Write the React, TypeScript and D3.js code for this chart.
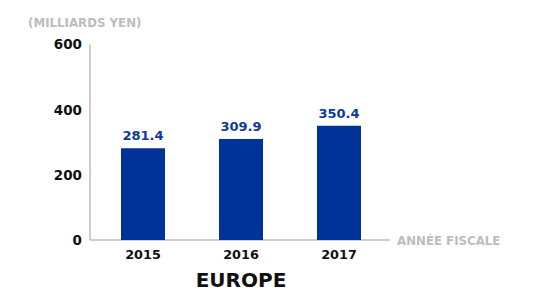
import React from 'react';
import * as d3 from 'd3';

const years = ['2015', '2016', '2017'];
const sales = [281.4, 309.9, 350.4];
const yTicks = [0, 200, 400, 600];

const font = '"DejaVu Sans", sans-serif';

export default function App() {
    const width = 538;
    const height = 293;

    const x = d3.scaleBand<string>()
        .domain(years)
        .range([94, 388])
        .paddingInner(0.551)
        .paddingOuter(0.2755);

    const y = d3.scaleLinear()
        .domain([0, 600])
        .range([240, 44.4]);

    return (
        <svg width={width} height={height}
            style={{ position: 'absolute', left: 0, top: 0, fontFamily: font }}>
            <text x={28} y={26.5} fontSize={11.8} fontWeight={700} fill="#bdbdbd">(MILLIARDS YEN)</text>

            {/* axes */}
            <line x1={90} x2={90} y1={y(600)} y2={y(0)} stroke="#bdbdbd" strokeWidth={1.5} />
            <line x1={90} x2={390} y1={y(0)} y2={y(0)} stroke="#bdbdbd" strokeWidth={1.5} />
            <text x={397} y={y(0) + 4.5} fontSize={11.8} fontWeight={700} fill="#bdbdbd">ANNÉE FISCALE</text>

            {yTicks.map((t) => (
                <text key={t} x={82} y={y(t) + 5} textAnchor="end" fontSize={13.5} fontWeight={700} fill="#111">
                    {t}
                </text>
            ))}

            {years.map((yr, i) => (
                <g key={yr}>
                    <rect x={x(yr)} y={y(sales[i])} width={x.bandwidth()} height={y(0) - y(sales[i])} fill="#003399" />
                    <text x={(x(yr) as number) + x.bandwidth() / 2} y={y(sales[i]) - 8} textAnchor="middle"
                        fontSize={13} fontWeight={700} fill="#0d3a96">
                        {sales[i].toFixed(1)}
                    </text>
                    <text x={(x(yr) as number) + x.bandwidth() / 2} y={259} textAnchor="middle"
                        fontSize={12.8} fontWeight={700} fill="#111">
                        {yr}
                    </text>
                </g>
            ))}

            <text x={241} y={286.5} textAnchor="middle" fontSize={20} fontWeight={700} fill="#111">EUROPE</text>
        </svg>
    );
}
